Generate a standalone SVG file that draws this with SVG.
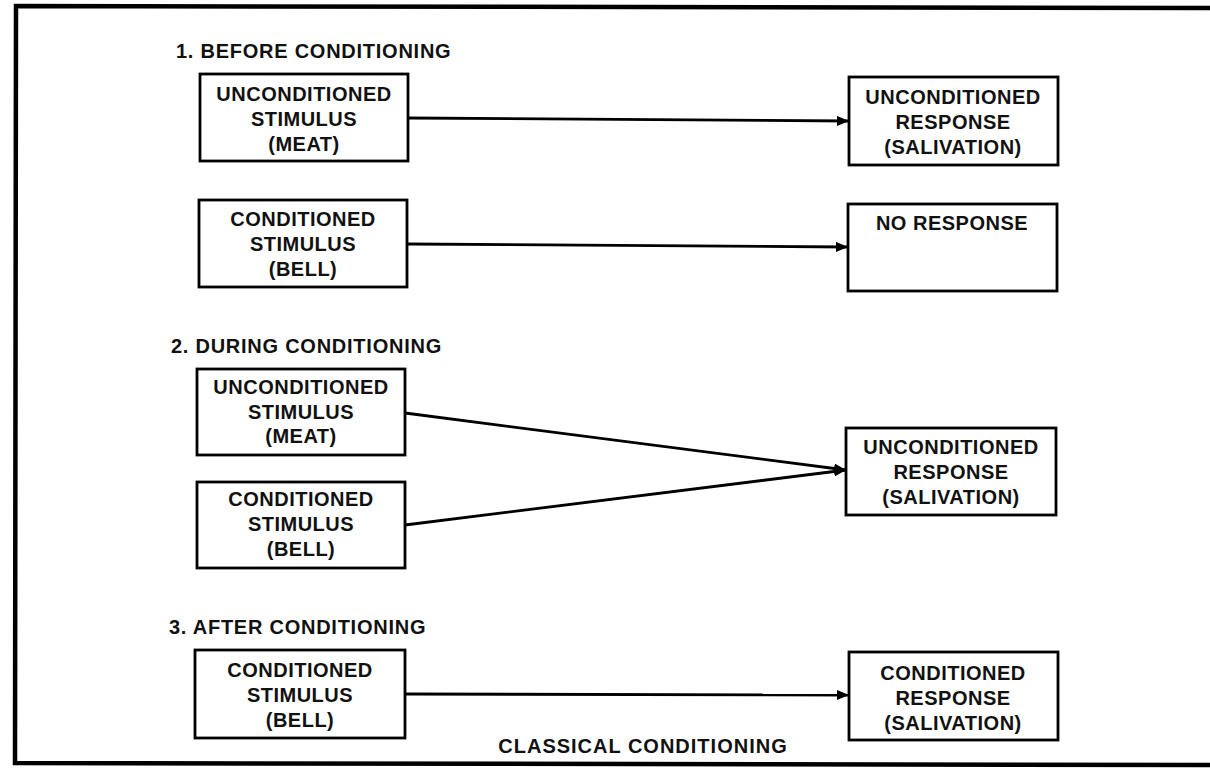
<svg xmlns="http://www.w3.org/2000/svg" width="1210" height="770" viewBox="0 0 1210 770">
<defs>
<style>
.bg{fill:#ffffff}
.frame{fill:none;stroke:#000;stroke-width:4.5}
.box{fill:#fff;stroke:#000;stroke-width:2.8}
.t{font-family:"Liberation Sans",Arial,Helvetica,sans-serif;font-weight:bold;font-size:20px;fill:#111;text-anchor:middle;letter-spacing:0.5px}
.h{font-family:"Liberation Sans",Arial,Helvetica,sans-serif;font-weight:bold;font-size:20px;fill:#111;letter-spacing:0.75px}
.edge{fill:none;stroke:#000;stroke-width:2.8}
</style>
<marker id="arr" markerUnits="userSpaceOnUse" viewBox="0 0 12 10" refX="12" refY="5" markerWidth="12" markerHeight="10" orient="auto">
<path d="M0,0 L12,5 L0,10 z" fill="#000"/>
</marker>
</defs>
<rect class="bg" x="0" y="0" width="1210" height="770"/>
<path class="frame" d="M1210,8 L16,6 L15,763 L1210,765"/>

<text class="h" x="176" y="58">1. BEFORE CONDITIONING</text>
<text class="h" x="171" y="353">2. DURING CONDITIONING</text>
<text class="h" x="169" y="634">3. AFTER CONDITIONING</text>
<text class="t" x="643" y="753" style="letter-spacing:1px">CLASSICAL CONDITIONING</text>

<g id="connectors">
<line class="edge" x1="408" y1="118" x2="849" y2="121" marker-end="url(#arr)"/>
<line class="edge" x1="407" y1="244" x2="848" y2="247" marker-end="url(#arr)"/>
<line class="edge" x1="405" y1="413" x2="846" y2="470" marker-end="url(#arr)"/>
<line class="edge" x1="405" y1="525" x2="846" y2="470" marker-end="url(#arr)"/>
<line class="edge" x1="405" y1="694" x2="849" y2="695" marker-end="url(#arr)"/>
</g>

<g id="us1">
<rect class="box" x="200" y="74" width="208" height="87"/>
<text class="t" x="304" y="101">UNCONDITIONED</text>
<text class="t" x="304" y="126">STIMULUS</text>
<text class="t" x="304" y="151">(MEAT)</text>
</g>
<g id="cs1">
<rect class="box" x="199" y="200" width="208" height="87"/>
<text class="t" x="303" y="226">CONDITIONED</text>
<text class="t" x="303" y="251">STIMULUS</text>
<text class="t" x="303" y="276">(BELL)</text>
</g>
<g id="ur1">
<rect class="box" x="849" y="77" width="209" height="88"/>
<text class="t" x="953" y="104">UNCONDITIONED</text>
<text class="t" x="953" y="129">RESPONSE</text>
<text class="t" x="953" y="154">(SALIVATION)</text>
</g>
<g id="nr1">
<rect class="box" x="848" y="204" width="209" height="87"/>
<text class="t" x="952" y="230">NO RESPONSE</text>
</g>

<g id="us2">
<rect class="box" x="197" y="369" width="208" height="86"/>
<text class="t" x="301" y="394">UNCONDITIONED</text>
<text class="t" x="301" y="419">STIMULUS</text>
<text class="t" x="301" y="443">(MEAT)</text>
</g>
<g id="cs2">
<rect class="box" x="197" y="482" width="208" height="86"/>
<text class="t" x="301" y="506">CONDITIONED</text>
<text class="t" x="301" y="531">STIMULUS</text>
<text class="t" x="301" y="556">(BELL)</text>
</g>
<g id="ur2">
<rect class="box" x="846" y="428" width="210" height="87"/>
<text class="t" x="951" y="454">UNCONDITIONED</text>
<text class="t" x="951" y="479">RESPONSE</text>
<text class="t" x="951" y="504">(SALIVATION)</text>
</g>

<g id="cs3">
<rect class="box" x="195" y="650" width="210" height="88"/>
<text class="t" x="300" y="677">CONDITIONED</text>
<text class="t" x="300" y="702">STIMULUS</text>
<text class="t" x="300" y="727">(BELL)</text>
</g>
<g id="cr3">
<rect class="box" x="849" y="652" width="209" height="88"/>
<text class="t" x="953" y="680">CONDITIONED</text>
<text class="t" x="953" y="705">RESPONSE</text>
<text class="t" x="953" y="730">(SALIVATION)</text>
</g>
</svg>
